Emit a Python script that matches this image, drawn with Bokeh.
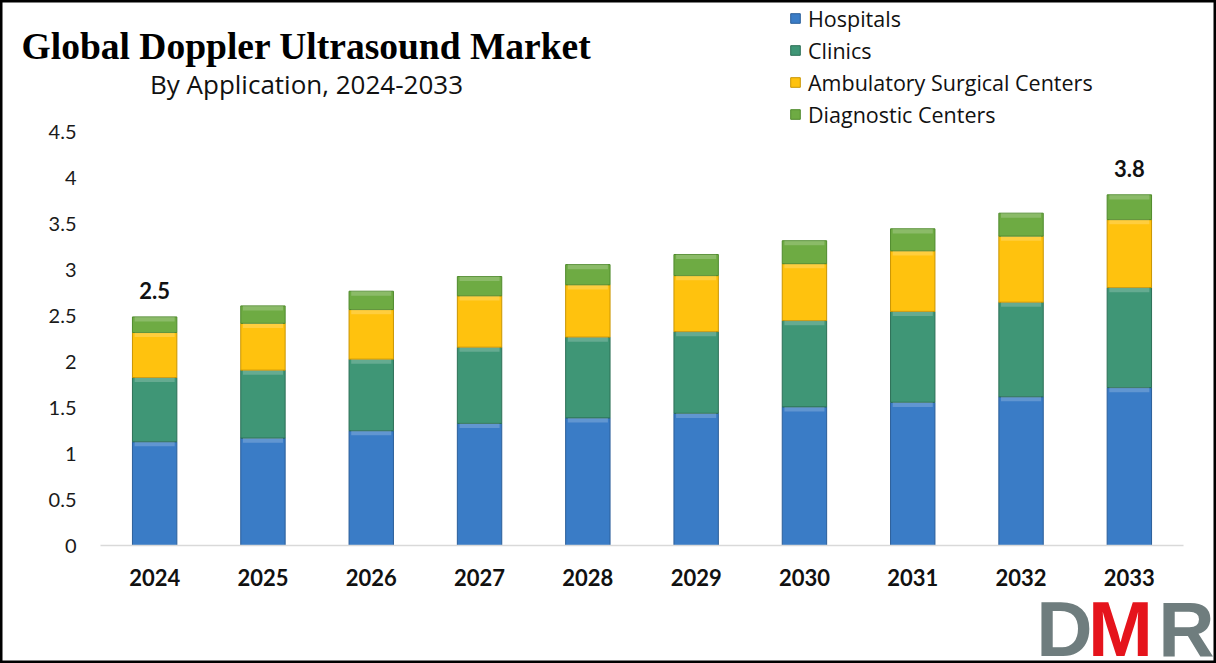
from bokeh.plotting import figure
from bokeh.models import (Range1d, FixedTicker, Label, Legend, LegendItem, ColumnDataSource,
                          LinearAxis)
from bokeh.core.properties import value
from bokeh.embed import file_html
from bokeh.resources import INLINE

# ---------------- data ----------------
years = ["2024", "2025", "2026", "2027", "2028", "2029", "2030", "2031", "2032", "2033"]
segments = ["Hospitals", "Clinics", "Ambulatory Surgical Centers", "Diagnostic Centers"]
hospitals = [1.13, 1.17, 1.25, 1.33, 1.39, 1.44, 1.51, 1.56, 1.62, 1.72]
clinics = [0.70, 0.74, 0.78, 0.83, 0.88, 0.89, 0.94, 0.99, 1.03, 1.09]
ambulatory = [0.49, 0.51, 0.54, 0.56, 0.57, 0.61, 0.62, 0.66, 0.72, 0.74]
diagnostic = [0.17, 0.19, 0.20, 0.21, 0.22, 0.23, 0.25, 0.24, 0.25, 0.27]
label_years = ["2024", "2033"]
label_texts = ["2.5", "3.8"]
y_ticks = [0, 0.5, 1, 1.5, 2, 2.5, 3, 3.5, 4, 4.5]

colors = ["#3a7cc6", "#3f9676", "#ffc20e", "#6eab43"]
edge_colors = ["#2a5e99", "#2c6f56", "#c99400", "#4f8a2c"]

# ---------------- layout helpers (screen px -> data) ----------------
W, H = 1216, 663
PX_LEFT, PX_RIGHT, PX_ZERO, PX_PER_UNIT = 100.0, 1183.0, 545.0, 91.8
PX_PER_CAT = (PX_RIGHT - PX_LEFT) / len(years)
PX_FIRST = PX_LEFT + PX_PER_CAT / 2


def xd(px):
    return (px - PX_FIRST) / PX_PER_CAT


def yd(py):
    return (PX_ZERO - py) / PX_PER_UNIT


xpos = list(range(len(years)))

p = figure(width=W, height=H, output_backend="svg", toolbar_location=None,
           x_range=Range1d(xd(0), xd(W)), y_range=Range1d(yd(H), yd(0)),
           x_axis_location=None, y_axis_location=None,
           min_border_left=0, min_border_right=0, min_border_top=0, min_border_bottom=0)
p.outline_line_color = "black"
p.outline_line_width = 4
p.background_fill_color = "white"
p.border_fill_color = "white"
p.xgrid.grid_line_color = None
p.ygrid.grid_line_color = None

src = ColumnDataSource(dict(x=xpos, Hospitals=hospitals, Clinics=clinics,
                            ASC=ambulatory, Diag=diagnostic))
renderers = p.vbar_stack(["Hospitals", "Clinics", "ASC", "Diag"], x="x", width=0.41,
                         source=src, fill_color=colors, line_color=edge_colors, line_width=1)

# light bevel strip on top of each segment
cum = [0.0] * len(years)
for vals in [hospitals, clinics, ambulatory, diagnostic]:
    tops = [c + v for c, v in zip(cum, vals)]
    p.vbar(x=xpos, top=tops, bottom=[t - 0.05 for t in tops], width=0.37,
           fill_color="white", fill_alpha=0.2, line_color=None)
    cum = tops

# total labels
totals = [h + c + a + d for h, c, a, d in zip(hospitals, clinics, ambulatory, diagnostic)]
p.text(x=[years.index(y) for y in label_years], y=[totals[years.index(y)] for y in label_years],
       text=label_texts, text_align="center", text_baseline="middle", y_offset=-26,
       text_font=value("Lato"), text_font_style="bold", text_font_size="22px",
       text_color="#111111")

# axes (fixed inside the full-canvas frame)
yaxis = LinearAxis(fixed_location=xd(PX_LEFT), ticker=FixedTicker(ticks=y_ticks),
                   bounds=(0, y_ticks[-1]))
yaxis.axis_line_color = None
yaxis.major_tick_line_color = None
yaxis.minor_tick_line_color = None
yaxis.major_tick_out = 0
yaxis.major_tick_in = 0
yaxis.major_label_standoff = 24
yaxis.major_label_text_font = "Lato"
yaxis.major_label_text_font_size = "20px"
yaxis.major_label_text_color = "#1a1a1a"
p.add_layout(yaxis, "left")

xaxis = LinearAxis(fixed_location=0, ticker=FixedTicker(ticks=xpos),
                   bounds=(xd(PX_LEFT), xd(PX_RIGHT)),
                   major_label_overrides={i: y for i, y in zip(xpos, years)})
xaxis.axis_line_color = "#d9d9d9"
xaxis.axis_line_width = 1.5
xaxis.major_tick_line_color = None
xaxis.minor_tick_line_color = None
xaxis.major_tick_out = 0
xaxis.major_tick_in = 0
xaxis.major_label_standoff = 23
xaxis.major_label_text_font = "Lato"
xaxis.major_label_text_font_style = "bold"
xaxis.major_label_text_font_size = "22px"
xaxis.major_label_text_color = "#111111"
p.add_layout(xaxis, "below")

# legend
items = [LegendItem(label=s, renderers=[r]) for s, r in zip(segments, renderers)]
legend = Legend(items=items, location=(789, H - 129), orientation="vertical",
                glyph_width=12, glyph_height=12, label_height=30, spacing=2, padding=0,
                margin=0, label_standoff=7, label_text_font="Open Sans",
                label_text_font_size="21.5px", label_text_color="#111111",
                border_line_color=None, background_fill_alpha=0)
p.add_layout(legend, "center")

# title & subtitle
p.add_layout(Label(x=xd(306), y=yd(46), text="Global Doppler Ultrasound Market",
                   text_align="center", text_baseline="alphabetic",
                   text_font="Liberation Serif", text_font_style="bold",
                   text_font_size="37.5px", text_color="#000000"))
p.add_layout(Label(x=xd(306), y=yd(83), text="By Application, 2024-2033",
                   text_align="center", text_baseline="alphabetic",
                   text_font="Open Sans", text_font_size="26px", text_color="#111111"))

# DMR logo
for ch, cx, col in [("D", 1064, "#6f7d7e"), ("M", 1120, "#e5141c"), ("R", 1186, "#6f7d7e")]:
    p.add_layout(Label(x=xd(cx), y=yd(628), text=ch, text_align="center",
                       text_baseline="alphabetic", text_font="Liberation Sans",
                       text_font_style="bold", text_font_size="78px", text_color=col))

open("out.html", "w").write(file_html(p, INLINE))
